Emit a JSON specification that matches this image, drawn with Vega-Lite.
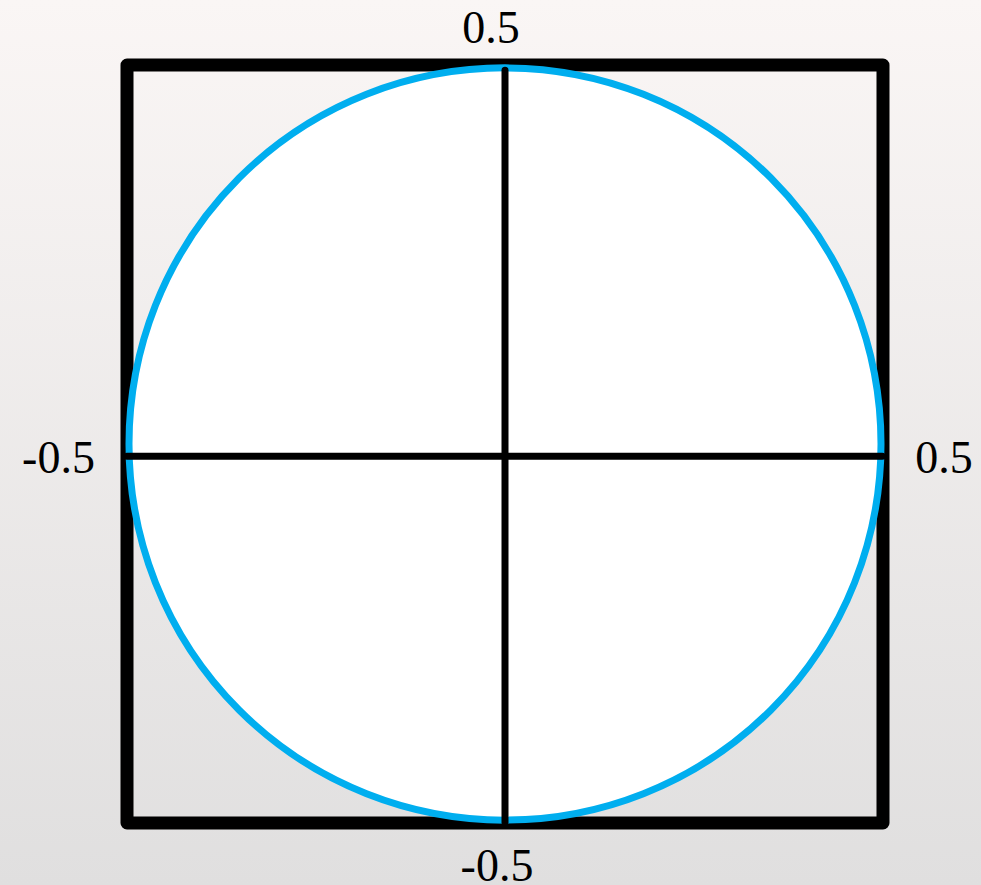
{
  "$schema": "https://vega.github.io/schema/vega-lite/v6.json",
  "width": 981,
  "height": 885,
  "autosize": {"type": "none"},
  "padding": 0,
  "background": "#eceaea",
  "view": {
    "stroke": null,
    "fill": {
      "gradient": "linear",
      "x1": 0, "y1": 0, "x2": 0, "y2": 1,
      "stops": [
        {"offset": 0, "color": "#faf6f5"},
        {"offset": 1, "color": "#e0dfdf"}
      ]
    }
  },
  "datasets": {
    "frame": [{"x": -0.5, "x2": 0.5, "y": 0.5, "y2": -0.5}],
    "circle": [{"x": 0, "y": 0}],
    "cross": [
      {"x": 0, "x2": 0, "y": 0.493, "y2": -0.499},
      {"x": -0.5, "x2": 0.499, "y": -0.0162, "y2": -0.0162}
    ],
    "labels": [
      {"label": "0.5", "x": -0.0185, "y": 0.5294},
      {"label": "-0.5", "x": -0.5906, "y": -0.0379},
      {"label": "0.5", "x": 0.5807, "y": -0.0379},
      {"label": "-0.5", "x": -0.0106, "y": -0.5765}
    ]
  },
  "encoding": {
    "x": {"field": "x", "type": "quantitative", "axis": null,
          "scale": {"domain": [-0.66799, 0.62963], "nice": false, "zero": false}},
    "y": {"field": "y", "type": "quantitative", "axis": null,
          "scale": {"domain": [-0.5818, 0.58575], "nice": false, "zero": false}}
  },
  "layer": [
    {
      "data": {"name": "frame"},
      "mark": {"type": "rect", "filled": false, "stroke": "#000000", "strokeWidth": 13, "strokeJoin": "round"},
      "encoding": {
        "x2": {"field": "x2"},
        "y2": {"field": "y2"}
      }
    },
    {
      "data": {"name": "circle"},
      "mark": {"type": "point", "shape": "circle", "filled": true, "fill": "#ffffff", "fillOpacity": 1, "opacity": 1,
               "stroke": "#00aeef", "strokeWidth": 7, "strokeOpacity": 1, "size": 565504}
    },
    {
      "data": {"name": "cross"},
      "mark": {"type": "rule", "color": "#000000", "strokeWidth": 7, "strokeCap": "round"},
      "encoding": {
        "x2": {"field": "x2"},
        "y2": {"field": "y2"}
      }
    },
    {
      "data": {"name": "labels"},
      "mark": {"type": "text", "font": "Liberation Serif", "fontSize": 46, "align": "center", "baseline": "alphabetic", "color": "#000000"},
      "encoding": {
        "text": {"field": "label", "type": "nominal"}
      }
    }
  ]
}
